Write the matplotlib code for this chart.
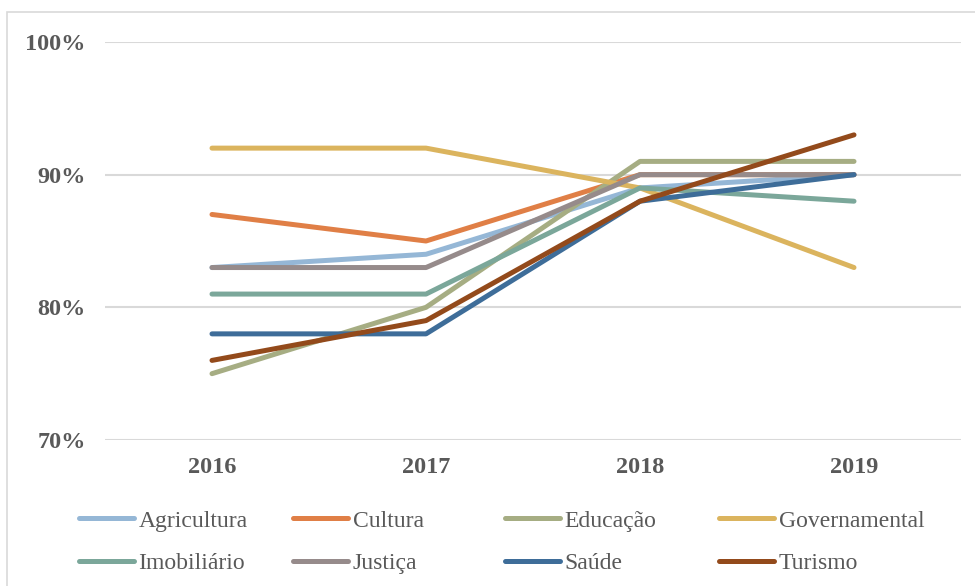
import matplotlib
matplotlib.use("Agg")
import matplotlib.pyplot as plt
from matplotlib.patches import Rectangle
from matplotlib.lines import Line2D
from matplotlib.ticker import FuncFormatter

years = ["2016", "2017", "2018", "2019"]
sectors = ["Agricultura", "Cultura", "Educação", "Governamental",
           "Imobiliário", "Justiça", "Saúde", "Turismo"]
agricultura = [83, 84, 89, 90]
cultura = [87, 85, 90, 90]
educacao = [75, 80, 91, 91]
governamental = [92, 92, 89, 83]
imobiliario = [81, 81, 89, 88]
justica = [83, 83, 90, 90]
saude = [78, 78, 88, 90]
turismo = [76, 79, 88, 93]
yticks = [70, 80, 90, 100]

series = [agricultura, cultura, educacao, governamental,
          imobiliario, justica, saude, turismo]
colors = ["#95B7D6", "#E07F46", "#A6AD83", "#DBB45E",
          "#7BA79A", "#968B8B", "#3E6D99", "#934A1B"]

W, H = 975, 586
fig = plt.figure(figsize=(W / 100, H / 100), dpi=100)

# outer frame of the chart area (open to the right and bottom)
fig.patches.append(Rectangle((7 / W, -0.2), 1.2, (H - 12) / H + 0.2,
                             transform=fig.transFigure,
                             fill=False, edgecolor="#D9D9D9", linewidth=1.2))

ax = fig.add_axes([105 / W, 1 - 440 / H, (961 - 105) / W, (440 - 42) / H])
x = list(range(len(years)))
for vals, c, name in zip(series, colors, sectors):
    ax.plot(x, vals, color=c, linewidth=3.6, solid_capstyle="round",
            solid_joinstyle="round", label=name)

ax.set_xlim(-0.5, 3.5)
ax.set_ylim(70, 100)
ax.set_yticks(yticks)
ax.yaxis.set_major_formatter(FuncFormatter(lambda v, p: f"{v:.0f}%"))
ax.set_xticks(x)
ax.set_xticklabels(years)
ax.grid(axis="y", color="#D9D9D9", linewidth=1.5)
ax.set_axisbelow(True)
for s in ax.spines.values():
    s.set_visible(False)
ax.tick_params(length=0)
ax.tick_params(axis="y", pad=14)
ax.tick_params(axis="x", pad=12)
for lab in ax.get_xticklabels() + ax.get_yticklabels():
    lab.set_fontfamily("Liberation Serif")
    lab.set_fontweight("bold")
    lab.set_fontsize(17.5)
    lab.set_color("#595959")

# legend: four columns of two entries
handles = [Line2D([], [], color=c, linewidth=3.6, solid_capstyle="round") for c in colors]
col_x = [79, 293, 505, 719]
for i, cx in enumerate(col_x):
    leg = fig.legend([handles[i], handles[i + 4]], [sectors[i], sectors[i + 4]],
                     loc="upper left", bbox_to_anchor=(cx / W, 1 - 510 / H),
                     frameon=False, borderpad=0, borderaxespad=0,
                     handlelength=2.35, handletextpad=0.17, labelspacing=0.88,
                     prop={"family": "Liberation Serif", "size": 17})
    for t in leg.get_texts():
        t.set_color("#595959")

fig.savefig("out.png", dpi=100)
